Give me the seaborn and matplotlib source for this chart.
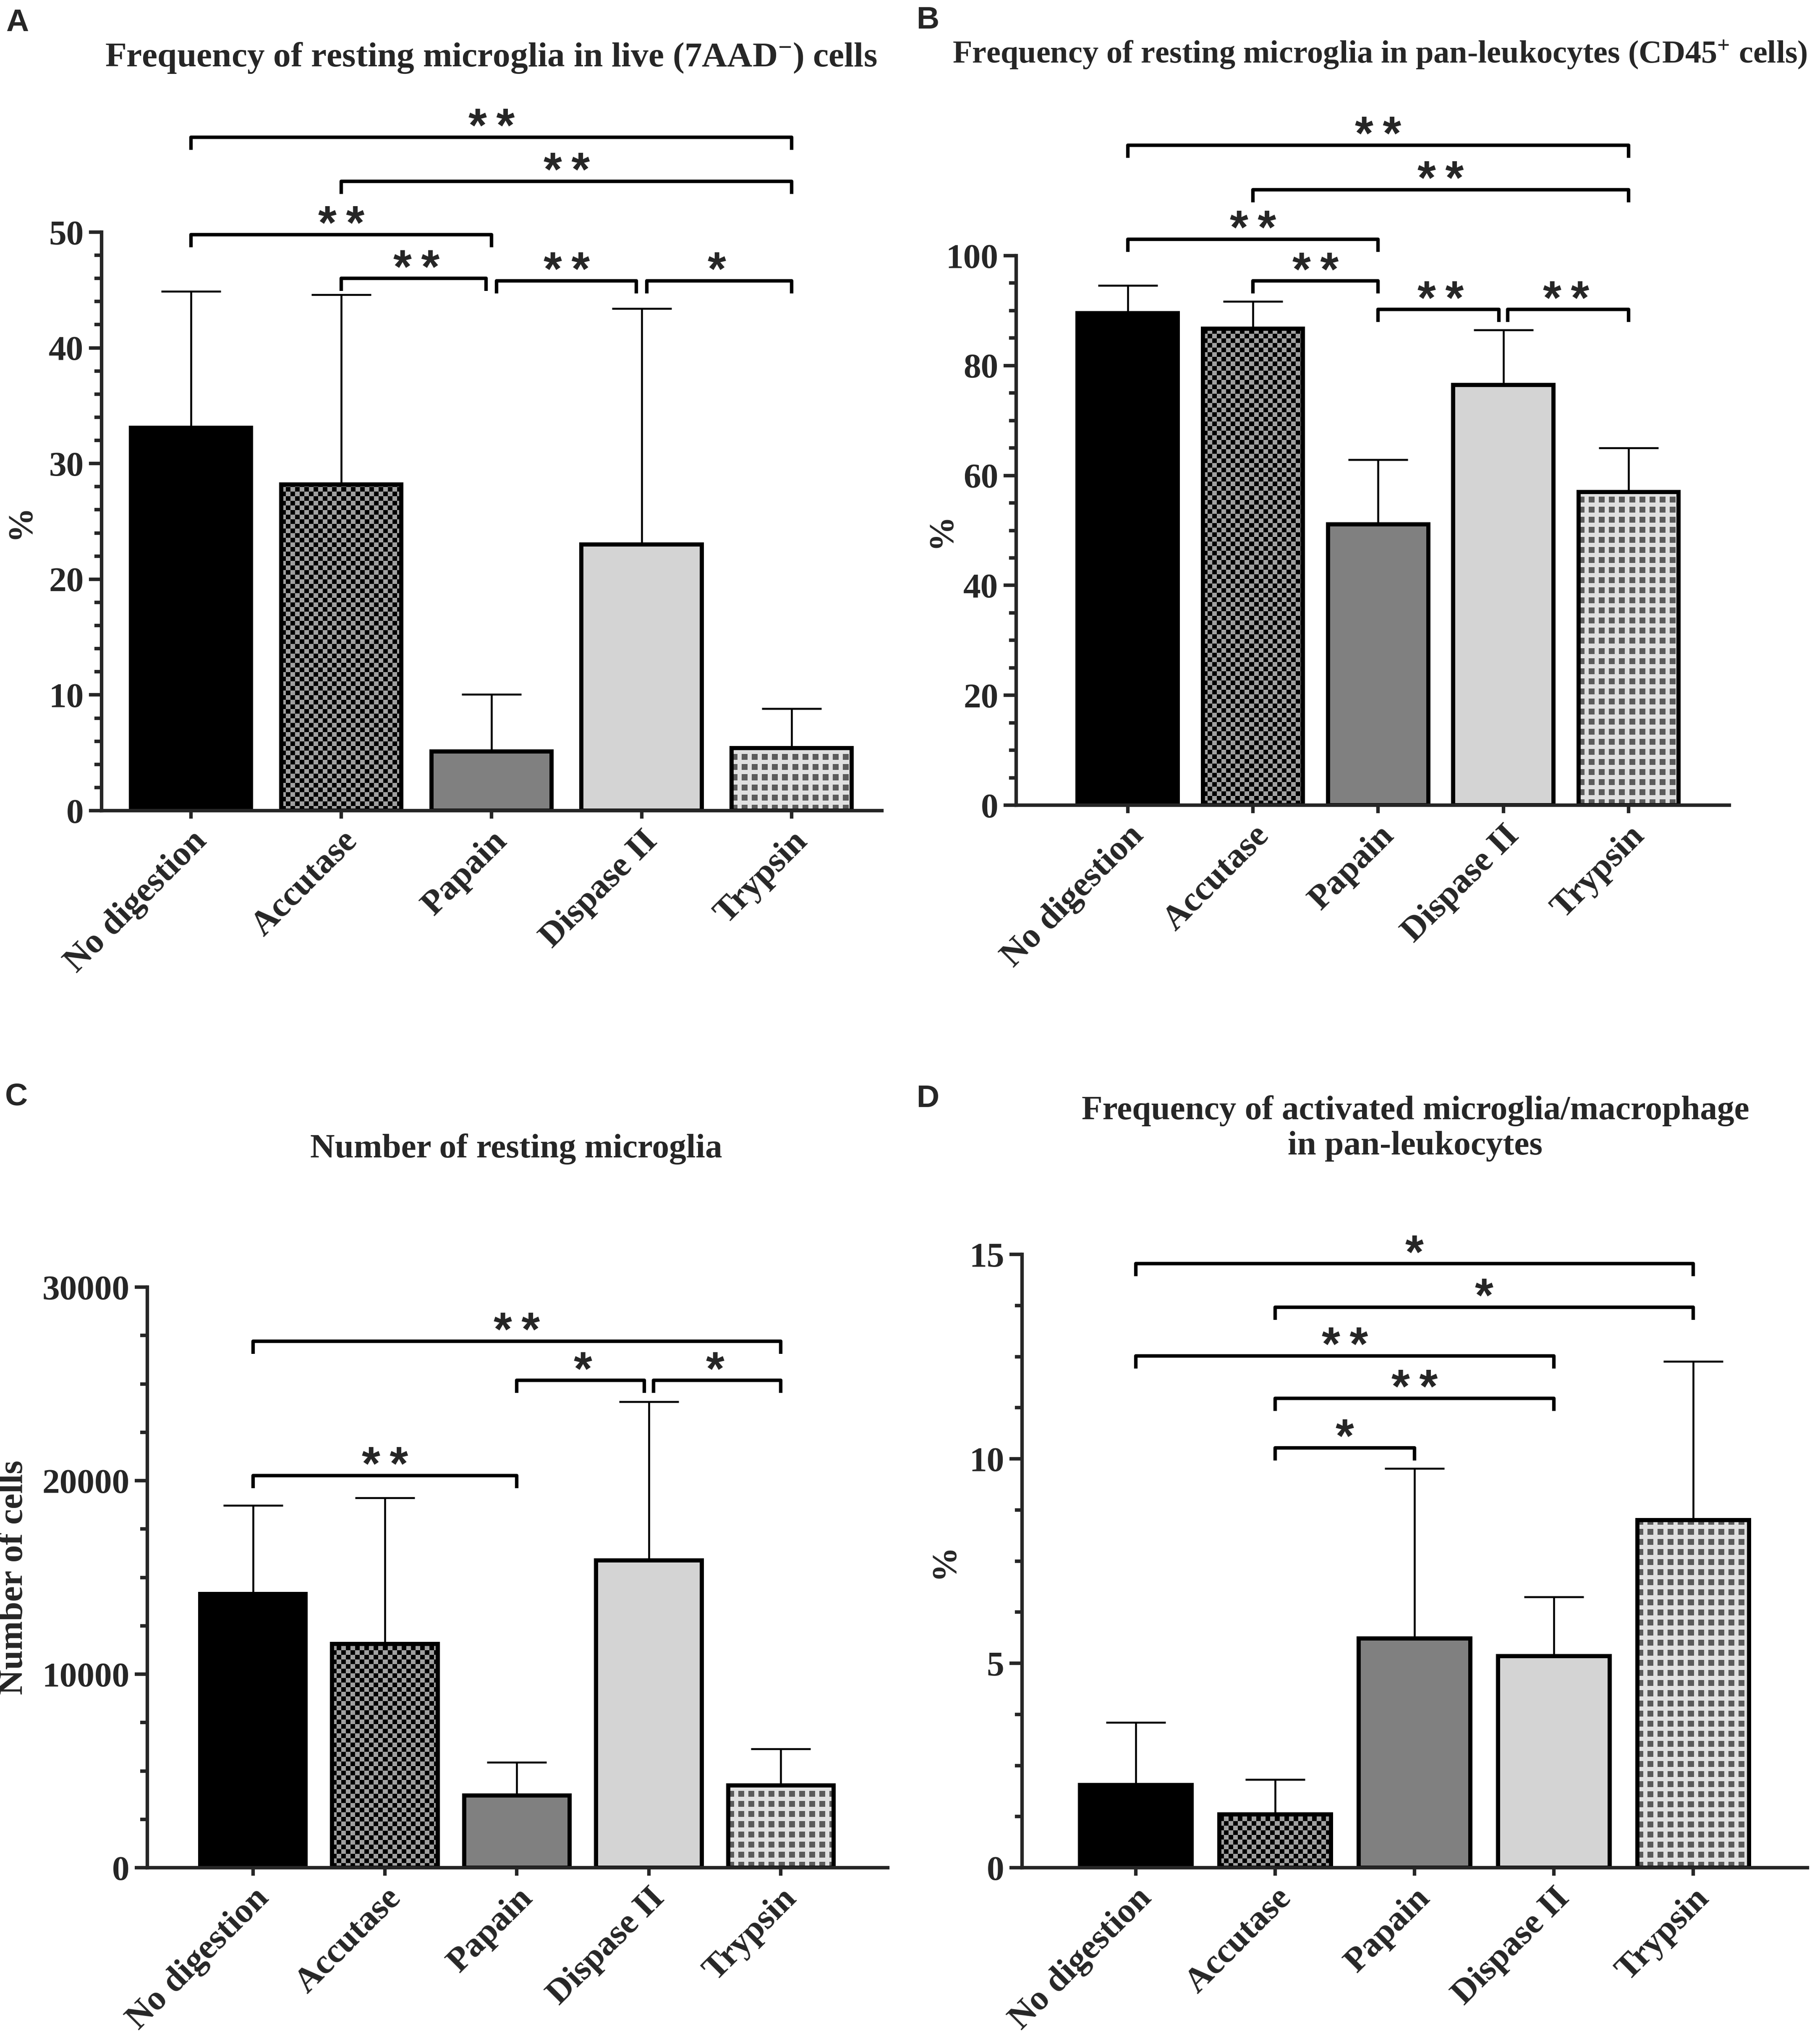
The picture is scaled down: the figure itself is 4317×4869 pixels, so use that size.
import numpy as np
import matplotlib
matplotlib.use('Agg')
import matplotlib.pyplot as plt
from matplotlib.ticker import MultipleLocator
import seaborn as sns

# data (mean bar height and SD for upper error bar)
categories = ['No digestion', 'Accutase', 'Papain', 'Dispase II', 'Trypsin']

live_mean = [33.1, 28.2, 5.1, 23.0, 5.4]
live_sd = [11.8, 16.4, 4.95, 20.4, 3.4]

cd45_mean = [89.5, 86.7, 51.1, 76.5, 57.0]
cd45_sd = [5.1, 5.0, 11.8, 10.0, 8.0]

count_mean = [14150, 11570, 3740, 15870, 4260]
count_sd = [4570, 7540, 1700, 8200, 1870]

act_mean = [2.02, 1.30, 5.61, 5.17, 8.50]
act_sd = [1.53, 0.86, 4.15, 1.45, 3.88]

# significance brackets: (group i, group j, height, label)
live_sig = [(0, 4, 58.2, '**'), (1, 4, 54.4, '**'), (0, 2, 49.8, '**'),
            (1, 2, 46.0, '**'), (2, 3, 45.8, '**'), (3, 4, 45.8, '*')]
cd45_sig = [(0, 4, 120.1, '**'), (1, 4, 112.0, '**'), (0, 2, 103.0, '**'),
            (1, 2, 95.4, '**'), (2, 3, 90.2, '**'), (3, 4, 90.2, '**')]
count_sig = [(0, 4, 27200, '**'), (2, 3, 25180, '*'), (3, 4, 25180, '*'),
             (0, 2, 20260, '**')]
act_sig = [(0, 4, 14.77, '*'), (1, 4, 13.71, '*'), (0, 3, 12.52, '**'),
           (1, 3, 11.48, '**'), (1, 2, 10.27, '*')]

bar_colors = ['#000000', '#8c8c8c', '#808080', '#d4d4d4', '#dcdcdc']
bar_fill = [None, 'checker', None, None, 'grid']

sns.set_style('ticks')
plt.rcParams['font.family'] = ['Liberation Serif', 'DejaVu Serif']
plt.rcParams['font.weight'] = 'bold'
plt.rcParams['mathtext.fontset'] = 'custom'
plt.rcParams['mathtext.rm'] = 'Liberation Serif:bold'
plt.rcParams['mathtext.bf'] = 'Liberation Serif:bold'
plt.rcParams['mathtext.default'] = 'rm'

DPI = 300
fig = plt.figure(figsize=(4317 / DPI, 4869 / DPI), dpi=DPI)


def fill_pattern(ax, patch, kind):
    x0, y0 = patch.get_x(), patch.get_y()
    w, h = patch.get_width(), patch.get_height()
    p0 = ax.transData.transform((x0, y0))
    p1 = ax.transData.transform((x0 + w, y0 + h))
    wpx, hpx = int(abs(p1[0] - p0[0])), int(abs(p1[1] - p0[1]))
    yy, xx = np.mgrid[0:hpx, 0:wpx]
    if kind == 'checker':
        cell = 11
        mask = ((yy // cell) + (xx // cell)) % 2 == 0
        img = np.where(mask[..., None], [0.0, 0.0, 0.0], [0.63, 0.63, 0.63])
    else:
        per, sq = 24, 14
        mask = ((yy % per) < sq) & ((xx % per) < sq)
        img = np.where(mask[..., None], [0.36, 0.36, 0.36], [0.88, 0.88, 0.88])
    im = ax.imshow(img, extent=(x0, x0 + w, y0, y0 + h), origin='lower',
                   aspect='auto', interpolation='nearest', zorder=1.5)
    im.set_clip_path(patch)
    patch.set_facecolor('none')
    patch.set_zorder(2)


def bracket(ax, sig, tick_px=30, gap=0.035):
    ylo, yhi = ax.get_ylim()
    ax_h_px = ax.get_position().height * fig.get_figheight() * DPI
    tick = (yhi - ylo) * tick_px / ax_h_px
    for i, j, y, lab in sig:
        xl, xr = i, j
        for k, l, y2, _ in sig:
            if (k, l) == (i, j) or abs(y2 - y) > (yhi - ylo) * 0.01:
                continue
            if k == j:
                xr = j - gap
            if l == i:
                xl = i + gap
        ax.plot([xl, xl, xr, xr], [y - tick, y, y, y - tick], color='black',
                lw=2.0, clip_on=False, solid_capstyle='butt', zorder=4)
        ax.annotate('\u2009'.join(lab), xy=((i + j) / 2, y), xytext=(0, -2.5),
                    textcoords='offset points', ha='center', va='baseline',
                    fontsize=27, fontweight='bold',
                    family=['Liberation Sans', 'DejaVu Sans'], annotation_clip=False)


def panel(rect, means, sds, ymax, major, minor, sig, ylabel, xlim, ylab_x):
    ax = fig.add_axes(rect)
    sns.barplot(x=categories, y=means, hue=categories, palette=bar_colors,
                legend=False, errorbar=None, width=0.8, edgecolor='black',
                linewidth=2.4, saturation=1, ax=ax)
    ax.set_xlim(*xlim)
    ax.set_ylim(0, ymax)
    ax.errorbar(range(len(categories)), means, yerr=[np.zeros(len(sds)), sds],
                fmt='none', ecolor='black', elinewidth=1.1, capsize=17,
                capthick=1.1, zorder=1)
    for patch, kind in zip(ax.patches, bar_fill):
        if kind is not None:
            fill_pattern(ax, patch, kind)
    sns.despine(ax=ax)
    for s in ['left', 'bottom']:
        ax.spines[s].set_linewidth(2.0)
    ax.yaxis.set_major_locator(MultipleLocator(major))
    ax.yaxis.set_minor_locator(MultipleLocator(minor))
    ax.tick_params(axis='y', which='major', length=7.2, width=2.0, labelsize=20, pad=3)
    ax.tick_params(axis='y', which='minor', length=4.0, width=2.0)
    ax.tick_params(axis='x', length=4.5, width=2.0, labelsize=20, pad=4)
    for t in ax.get_yticklabels():
        t.set_fontweight('bold')
    ax.set_xticks(range(len(categories)))
    ax.set_xticklabels(categories, rotation=45, ha='right', va='top',
                       rotation_mode='anchor', fontweight='bold')
    ax.set_xlabel('')
    ax.set_ylabel(ylabel, fontsize=20, fontweight='bold')
    ax.yaxis.label.set_va('center')
    ax.yaxis.set_label_coords(ylab_x, 0.5)
    bracket(ax, sig)
    return ax


W, H = 4317, 4869


def rect(l, r, b, t):
    return [l / W, 1 - b / H, (r - l) / W, (b - t) / H]


panel(rect(242, 2101, 1931, 553), live_mean, live_sd, 50, 10, 2, live_sig, '%',
      (-0.596, 4.60), -0.104)
panel(rect(2421, 4120, 1918, 609), cd45_mean, cd45_sd, 100, 20, 5, cd45_sig, '%',
      (-0.89, 4.805), -0.105)
panel(rect(351, 2115, 4449, 3066), count_mean, count_sd, 30000, 10000, 2500,
      count_sig, 'Number of cells', (-0.80, 4.81), -0.18)
panel(rect(2435, 4306, 4449, 2988), act_mean, act_sd, 15, 5, 1.25, act_sig, '%',
      (-0.816, 4.82), -0.099)

title_kw = dict(ha='center', va='center', fontweight='bold')
fig.text(1170 / W, 1 - 138 / H, r'Frequency of resting microglia in live (7AAD$^{-}$) cells',
         fontsize=20, **title_kw)
fig.text(3287 / W, 1 - 130 / H, r'Frequency of resting microglia in pan-leukocytes (CD45$^{+}$ cells)',
         fontsize=18.3, **title_kw)
fig.text(1230 / W, 1 - 2737 / H, 'Number of resting microglia', fontsize=19.5, **title_kw)
fig.text(3372 / W, 1 - 2688 / H, 'Frequency of activated microglia/macrophage\nin pan-leukocytes',
         fontsize=19.5, linespacing=1.2, **title_kw)

lab_kw = dict(ha='center', va='center', fontsize=18, fontweight='bold', family='Liberation Sans')
fig.text(41 / W, 1 - 54 / H, 'A', **lab_kw)
fig.text(2211 / W, 1 - 49 / H, 'B', **lab_kw)
fig.text(39 / W, 1 - 2613 / H, 'C', **lab_kw)
fig.text(2211 / W, 1 - 2618 / H, 'D', **lab_kw)

fig.savefig('out.png', dpi=DPI, facecolor='white')
